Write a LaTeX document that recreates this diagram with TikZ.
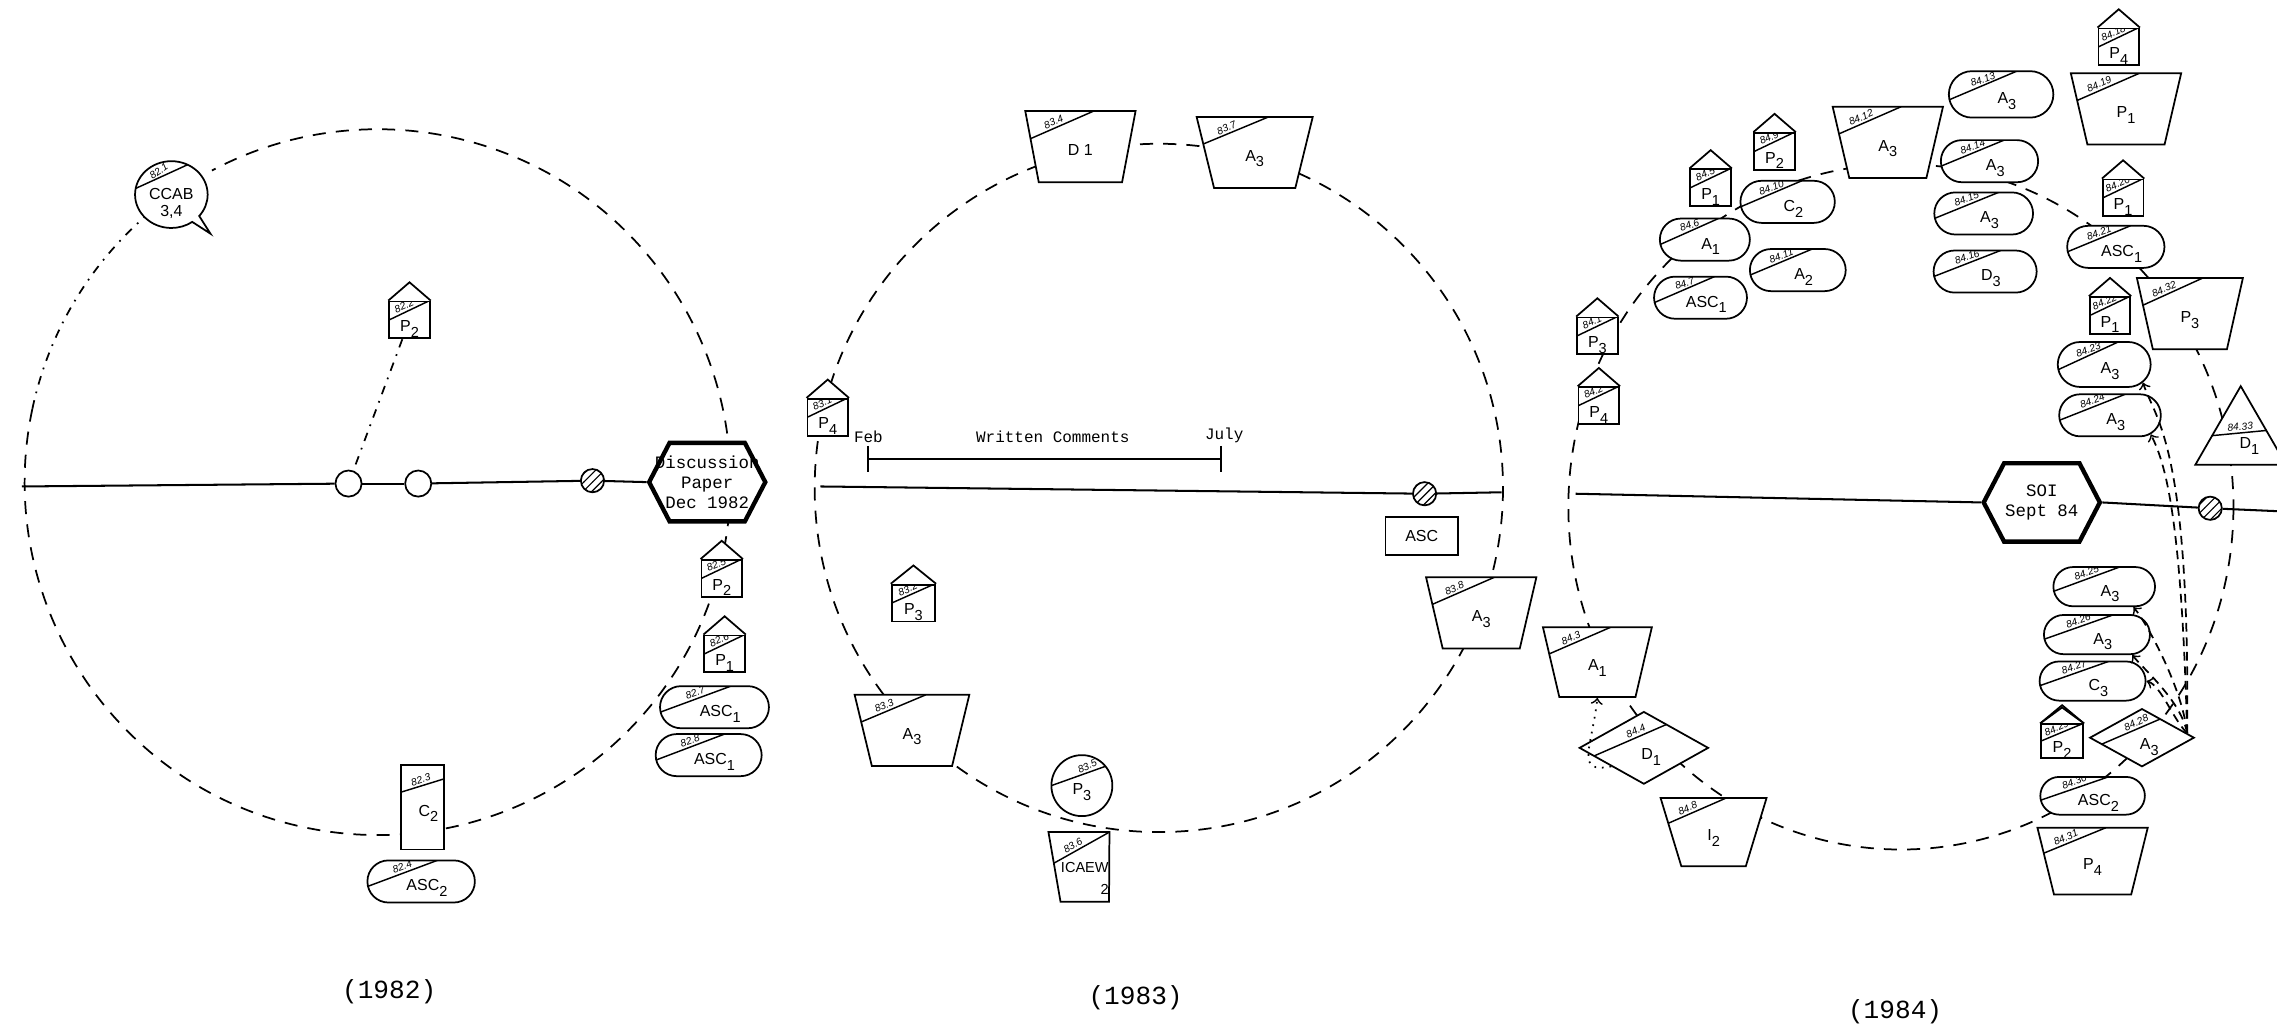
\documentclass[tikz,border=0pt]{standalone}
\usepackage{fontspec}
\setmainfont{Liberation Sans}
\setmonofont{Liberation Mono}
\usetikzlibrary{shapes.geometric,shapes.misc,shapes.symbols,shapes.callouts,patterns,calc}
\newcommand{\subx}[1]{\raisebox{-2pt}{\fontsize{5}{5}\selectfont #1}}
\newcommand{\labfont}{\fontsize{5.5}{6}\selectfont}
\newcommand{\tagfont}{\fontsize{3.5}{4}\selectfont\itshape}
\tikzset{
  sym/.style={draw, fill=white, line width=0.6pt, inner sep=0pt, font=\labfont},
  tagtext/.style={pos=0.45, anchor=south, rotate=#1, shape=rectangle, draw=none, fill=none,
    minimum width=0pt, minimum height=0pt, text width=, text height=, text depth=,
    execute at begin node={}, inner sep=0.6pt, font=\tagfont},
  tagged/.style n args={4}{path picture={
      \draw[line width=0.5pt] ($(path picture bounding box.north west)!#2!(path picture bounding box.south west)$)
        -- node[tagtext=#4] {#1}
        ($(path picture bounding box.north west)!#3!(path picture bounding box.north east)$);}},
  sidetag/.style n args={4}{path picture={
      \draw[line width=0.5pt] ($(path picture bounding box.north west)!#2!(path picture bounding box.south west)$)
        -- node[tagtext=#4, pos=0.5] {#1}
        ($(path picture bounding box.north east)!#3!(path picture bounding box.south east)$);}},
  tag/.style={tagged={#1}{0.62}{0.65}{20}},
  htag/.style={tagged={#1}{0.5}{0.95}{24}},
  ttag/.style={tagged={#1}{0.42}{0.62}{24}},
  dtag/.style={tagged={#1}{0.7}{0.9}{25}},
  roof/.style={append after command={\pgfextra{\draw[line width=0.6pt, fill=white]
      (\tikzlastnode.north west) -- ([yshift=#1]\tikzlastnode.north) -- (\tikzlastnode.north east);}}},
  house/.style={sym, rectangle, minimum width=14pt, minimum height=12.7pt, yshift=-3.15pt,
    text height=8pt, text depth=0pt, roof=6.3pt},
  trap/.style={sym, trapezium, trapezium stretches=true, shape border rotate=180,
    trapezium left angle=77, trapezium right angle=77,
    minimum width=38pt, minimum height=24.5pt, text height=6pt, text depth=0pt},
  pill/.style={sym, rounded rectangle, minimum width=35pt, minimum height=14.5pt,
    text height=6.5pt, text depth=0pt, execute at begin node={\hspace*{4pt}}},
  dia/.style={sym, diamond, text height=8pt, text depth=0pt, execute at begin node={\hspace*{5pt}}},
  box/.style={sym, rectangle},
  tri/.style={sym, regular polygon, regular polygon sides=3, minimum size=32pt,
    text height=7pt, text depth=0pt},
  hexa/.style={draw, fill=white, line width=1.5pt, signal, signal to=east and west,
    signal pointer angle=125, minimum width=40pt, minimum height=27pt, inner sep=0pt},
  hextext/.style={font=\ttfamily\fontsize{6}{6.8}\selectfont, align=center, inner sep=0pt},
  labtext/.style={font=\fontsize{5}{5.5}\selectfont, align=right, inner sep=0pt},
  dot/.style={circle, draw, fill=white, line width=0.6pt, minimum size=9pt, inner sep=0pt},
  hatchdot/.style={dot, minimum size=8pt, pattern=north east lines},
  ring/.style={line width=0.6pt, dash pattern=on 4.5pt off 3.5pt},
  dashdot/.style={line width=0.6pt, dash pattern=on 3pt off 2.5pt on 0.6pt off 2.5pt},
  flow/.style={line width=0.6pt, dash pattern=on 3pt off 2pt, ->},
  axis/.style={line width=0.7pt},
  year/.style={font=\ttfamily\fontsize{9}{10}\selectfont},
  tl/.style={font=\ttfamily\fontsize{5.5}{6}\selectfont, inner sep=0.5pt}
}
\begin{document}
\begin{tikzpicture}[x=0.5pt, y=-0.5pt]
\useasboundingbox (0,0) rectangle (1568,710);

% rings
\coordinate (o1) at (260,332);
\coordinate (o2) at (798,336);
\coordinate (o3) at (1309,349);
\draw[ring] (o1) ++(192:243) arc[start angle=192, end angle=-118, radius=243];
\draw[dashdot] (o1) ++(192:243) arc[start angle=192, end angle=230, radius=243];
\draw[ring] (o2) circle[radius=237];
\draw[ring] (o3) ellipse[x radius=229, y radius=236];

% 1982
\node[sym, ellipse callout, callout relative pointer={(5pt,-5pt)}, minimum width=25pt,
  minimum height=23pt, tagged={82.1}{0.38}{0.8}{35},
  label={[font=\labfont, align=center, inner sep=0pt, yshift=-3pt]center:CCAB\\3,4}] (ccab) at (118,134) {};
\node[house, htag={82.2}] (p2a) at (282,214) {P\subx{2}};
\node[dot] (s1) at (240,333) {};
\node[dot] (s2) at (288,333) {};
\node[hatchdot] (s3) at (408,331) {};
\node[hexa, label={[hextext]center:Discussion\\Paper\\Dec 1982}] (disc) at (487,332) {};
\node[house, htag={82.5}] (p2b) at (497,392) {P\subx{2}};
\node[house, htag={82.6}] (p1a) at (499,444) {P\subx{1}};
\node[pill, tag={82.7}, minimum width=37.5pt] (asc1a) at (492,487) {ASC\subx{1}};
\node[pill, tag={82.8}, minimum width=36.5pt] (asc1b) at (488,520) {ASC\subx{1}};
\node[box, sidetag={82.3}{0.32}{0.16}{18}, minimum width=15pt, minimum height=29pt,
  text height=6pt, text depth=0pt] (c2a) at (291,556) {\hspace*{4pt}C\subx{2}};
\node[pill, tag={82.4}, minimum width=37pt] (asc2a) at (290,607) {ASC\subx{2}};
\node[year] (y82) at (268,683) {(1982)};
\coordinate (l1) at (15,335);
\draw[axis] (l1) -- (s1);
\draw[axis] (s1) -- (s2);
\draw[axis] (s2) -- (s3);
\draw[axis] (s3) -- (disc.west);
\draw[dashdot] (p2a) -- (s1);

% 1983
\node[trap, ttag={83.4}] (d1a) at (744,101) {D 1};
\node[trap, ttag={83.7}, minimum width=40pt] (a3a) at (864,105) {A\subx{3}};
\node[house, htag={83.1}] (p4a) at (570,281) {P\subx{4}};
\node[house, htag={83.2}, minimum width=15pt] (p3a) at (629,409) {P\subx{3}};
\node[trap, ttag={83.3}, minimum width=39.5pt] (a3b) at (628,503) {A\subx{3}};
\node[sym, circle, tagged={83.5}{0.5}{1.4}{25}, minimum size=21pt, text height=6pt,
  text depth=0pt] (p3b) at (745,541) {P\subx{3}};
\node[sym, trapezium, trapezium stretches=true, shape border rotate=180,
  trapezium left angle=89.5, trapezium right angle=76, minimum width=21pt,
  minimum height=24pt, inner sep=1pt, tagged={83.6}{0.49}{1.0}{30},
  label={[labtext, yshift=-4pt]center:ICAEW\\\subx{2}}] (icaew) at (747,597) {};
\node[trap, ttag={83.8}] (a3c) at (1020,422) {A\subx{3}};
\node[box, minimum width=25pt, minimum height=13pt] (asc) at (979,369) {ASC};
\node[hatchdot] (h2) at (981,340) {};
\node[tl] (febt) at (598,301) {Feb};
\node[tl] (wc) at (725,301) {Written Comments};
\node[tl] (julyt) at (843,300) {July};
\coordinate (feb) at (598,316);
\coordinate (jul) at (841,316);
\draw[axis] (feb) -- (jul);
\draw[axis] (feb) ++(0,-9) -- ++(0,18);
\draw[axis] (jul) ++(0,-9) -- ++(0,18);
\coordinate (l2) at (565,335);
\coordinate (r2) at (1034,339);
\draw[axis] (l2) -- (h2);
\draw[axis] (h2) -- (r2);
\node[year] (y83) at (782,687) {(1983)};

% 1984
\node[house, htag={84.1}] (p3c) at (1100,225) {P\subx{3}};
\node[house, htag={84.2}] (p4b) at (1101,273) {P\subx{4}};
\node[trap, ttag={84.3}, minimum width=37.5pt, minimum height=24pt] (a1a) at (1100,456) {A\subx{1}};
\node[dia, dtag={84.4}, minimum width=44.5pt, minimum height=25pt] (d1b) at (1132,515) {D\subx{1}};
\node[trap, ttag={84.8}, minimum width=36.5pt, minimum height=23.5pt] (i2) at (1180,573) {I\subx{2}};
\node[pill, tag={84.7}, minimum width=32pt] (asc1c) at (1171,205) {ASC\subx{1}};
\node[pill, tag={84.6}, minimum width=31pt] (a1b) at (1174,165) {A\subx{1}};
\node[pill, tag={84.11}, minimum width=33pt] (a2) at (1238,186) {A\subx{2}};
\node[pill, tag={84.10}, minimum width=32.5pt] (c2b) at (1231,139) {C\subx{2}};
\node[house, htag={84.5}] (p1b) at (1178,123) {P\subx{1}};
\node[house, htag={84.9}] (p2c) at (1222,98) {P\subx{2}};
\node[trap, ttag={84.12}] (a3d) at (1300,98) {A\subx{3}};
\node[pill, tag={84.13}, minimum width=36pt, minimum height=16pt] (a3e) at (1378,65) {A\subx{3}};
\node[pill, tag={84.14}, minimum width=33.5pt] (a3f) at (1370,111) {A\subx{3}};
\node[pill, tag={84.15}, minimum width=34pt] (a3g) at (1366,147) {A\subx{3}};
\node[pill, tag={84.16}, minimum width=35.5pt] (d3) at (1367,187) {D\subx{3}};
\node[house, htag={84.18}] (p4c) at (1459,26) {P\subx{4}};
\node[trap, ttag={84.19}] (p1c) at (1464,75) {P\subx{1}};
\node[house, htag={84.20}] (p1d) at (1462,130) {P\subx{1}};
\node[pill, tag={84.21}, minimum width=33.5pt] (asc1d) at (1457,170) {ASC\subx{1}};
\node[house, htag={84.22}] (p1e) at (1453,211) {P\subx{1}};
\node[trap, ttag={84.32}, minimum width=36.5pt] (p3d) at (1508,216) {P\subx{3}};
\node[pill, tag={84.23}, minimum width=32pt, minimum height=15.5pt] (a3h) at (1449,251) {A\subx{3}};
\node[pill, tag={84.24}, minimum width=35pt] (a3i) at (1453,286) {A\subx{3}};
\node[tri, sidetag={84.33}{0.65}{0.54}{5}] (d1c) at (1543,302) {\hspace*{6pt}D\subx{1}};
\node[hexa, label={[hextext]center:SOI\\Sept 84}] (soi) at (1406,346) {};
\node[hatchdot] (h3) at (1522,350) {};
\node[pill, tag={84.25}, minimum height=13.5pt] (a3j) at (1449,404) {A\subx{3}};
\node[pill, tag={84.26}, minimum width=36.5pt, minimum height=13.5pt] (a3k) at (1444,437) {A\subx{3}};
\node[pill, tag={84.27}, minimum width=36.5pt, minimum height=13.5pt] (c3) at (1441,469) {C\subx{3}};
\node[house, htag={84.29}, minimum width=14.5pt, minimum height=11.5pt, yshift=0.5pt, roof=5.5pt] (p2d) at (1420,505) {P\subx{2}};
\node[dia, dtag={84.28}, minimum width=36pt, minimum height=20pt] (a3l) at (1475,508) {A\subx{3}};
\node[pill, tag={84.30}, minimum width=36pt, minimum height=13pt] (asc2b) at (1441,548) {ASC\subx{2}};
\node[trap, ttag={84.31}, minimum height=23pt] (p4d) at (1441,593) {P\subx{4}};
\node[year] (y84) at (1305,697) {(1984)};
\coordinate (l3) at (1085,340);
\coordinate (r3) at (1568,352);
\draw[axis] (l3) -- (soi.west);
\draw[axis] (soi.east) -- (h3);
\draw[axis] (h3) -- (r3);
\coordinate (src) at ($(a3l.north east)!0.7!(a3l.east)$);
\draw[flow] (src) .. controls +(-3,-30) and +(10,12) .. (a3j.-35);
\draw[flow] (src) .. controls +(-4,-22) and +(8,10) .. (a3k.-30);
\draw[flow] (src) .. controls +(-10,-10) and +(10,3) .. (c3.east);
\draw[flow] (src) .. controls +(-4,-150) and +(10,20) .. (a3i.-25);
\draw[flow] (src) .. controls +(2,-200) and +(8,25) .. (a3h.-25);
\draw[line width=0.6pt, dotted, ->] (d1b.south west) .. controls +(-25,5) and +(-4,35) .. (a1a.south);
\end{tikzpicture}
\end{document}
